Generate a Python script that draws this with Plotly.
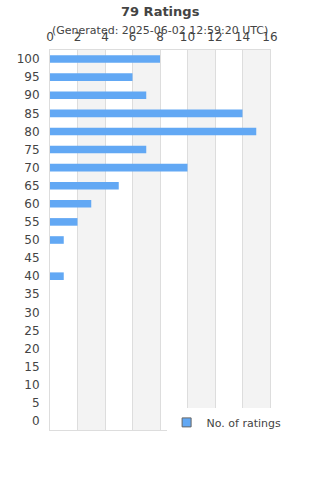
import plotly.graph_objects as go

categories = [str(v) for v in range(0, 101, 5)]
counts = [0, 0, 0, 0, 0, 0, 0, 0, 1, 0, 1, 2, 3, 5, 10, 7, 15, 14, 7, 6, 8]
x_ticks = list(range(0, 17, 2))
title = "79 Ratings"
subtitle = "(Generated: 2025-06-02 12:59:20 UTC)"
series_name = "No. of ratings"

bar_color = "#62a8f4"
text_color = "#444444"
font = "DejaVu Sans"

fig = go.Figure()
fig.add_trace(go.Bar(
    y=categories, x=counts, orientation="h",
    marker=dict(color=bar_color, line=dict(width=0)),
    width=0.42, showlegend=False, hoverinfo="x+y",
))
# legend-only proxy trace (square icon with grey border)
fig.add_trace(go.Scatter(
    x=[None], y=[None], mode="markers", name=series_name,
    marker=dict(symbol="square", size=9, color=bar_color,
                line=dict(color="#666666", width=1)),
))

shapes = []
for i in range(1, len(x_ticks) - 1, 2):
    shapes.append(dict(type="rect", xref="x", yref="paper",
                       x0=x_ticks[i], x1=x_ticks[i + 1], y0=0, y1=1,
                       fillcolor="#f3f3f3", line=dict(width=0), layer="below"))

fig.update_layout(
    width=320, height=480,
    margin=dict(l=50, r=50, t=50, b=50),
    paper_bgcolor="white", plot_bgcolor="white",
    font=dict(family=font, size=11, color=text_color),
    shapes=shapes,
    bargap=0.58,
    xaxis=dict(side="top", range=[0, 16], tickvals=x_ticks,
               showgrid=True, gridcolor="#dddddd", gridwidth=1,
               zeroline=False, showline=True, linecolor="#dddddd", mirror=True,
               ticks="outside", ticklen=3, tickcolor="rgba(0,0,0,0)",
               tickfont=dict(size=12, color=text_color), fixedrange=True),
    yaxis=dict(type="category", categoryorder="array", categoryarray=categories,
               showgrid=False, zeroline=False, showline=True, linecolor="#dddddd",
               mirror=True, ticks="outside", ticklen=7, tickcolor="rgba(0,0,0,0)",
               tickfont=dict(size=12, color=text_color), fixedrange=True),
    legend=dict(x=0.53, y=0.02, xanchor="left", yanchor="middle",
                bgcolor="white", font=dict(size=11, color=text_color),
                itemwidth=30),
    annotations=[
        dict(text="<b>" + title + "</b>", xref="paper", yref="paper",
             x=0.5, y=1, yshift=39, showarrow=False,
             font=dict(size=13, color=text_color), xanchor="center", yanchor="middle"),
        dict(text=subtitle, xref="paper", yref="paper",
             x=0.5, y=1, yshift=20, showarrow=False,
             font=dict(size=11, color=text_color), xanchor="center", yanchor="middle"),
    ],
)

fig.write_html("out.html")
